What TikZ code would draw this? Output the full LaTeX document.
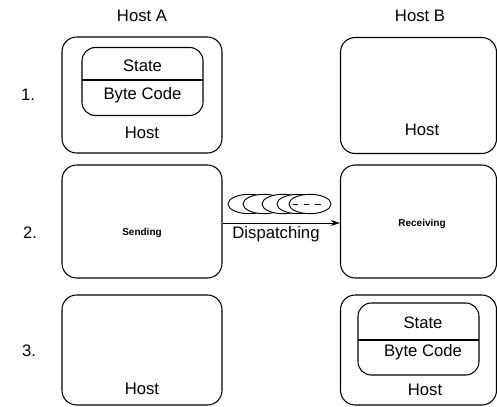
\documentclass[tikz,border=0pt]{standalone}
\usepackage{fontspec}
\setmainfont{Liberation Sans}
\usetikzlibrary{shapes.geometric,arrows.meta}
\begin{document}
\begin{tikzpicture}[x=0.75pt,y=-0.75pt,
  lbl/.style={font=\fontsize{12.5}{14}\selectfont, inner sep=0pt},
  small/.style={font=\fontsize{7.5}{9}\selectfont\bfseries, inner sep=0pt},
  hostbox/.style={draw, line width=0.8pt, rounded corners=11pt, inner sep=0pt},
  codebox/.style={draw, line width=0.8pt, rounded corners=10pt, inner sep=0pt, minimum width=90.75pt, minimum height=51pt},
  packet/.style={ellipse, draw, line width=0.7pt, fill=white, minimum width=31.5pt, minimum height=14.5pt, inner sep=0pt}
]
\useasboundingbox (0,0) rectangle (497,407);
% column titles
\node[lbl] (ta) at (142,16) {Host A};
\node[lbl] (tb) at (420,16) {Host B};
% row numbers
\node[lbl] (n1) at (28,95) {1.};
\node[lbl] (n2) at (30,233) {2.};
\node[lbl] (n3) at (29,351) {3.};
% row 1
\node[hostbox, minimum width=120pt, minimum height=87pt] (a1) at (142,95) {};
\node[hostbox, minimum width=117pt, minimum height=87pt] (b1) at (418.5,95.5) {};
\node[codebox] (ca) at (142.5,81.5) {};
\coordinate (cal) at (82,80);
\coordinate (car) at (203,80);
\draw[line width=0.8pt] (cal) -- (car);
\node[lbl] (sa) at (142.5,66) {State};
\node[lbl] (bca) at (142.5,95) {Byte Code};
\node[lbl] (ha1) at (142,133) {Host};
\node[lbl] (hb1) at (422,130) {Host};
% row 2
\node[hostbox, minimum width=120pt, minimum height=84.75pt] (a2) at (142,221.5) {};
\node[hostbox, minimum width=117pt, minimum height=84.75pt] (b2) at (418.5,221.5) {};
\node[small] (send) at (142,233) {Sending};
\node[small] (recv) at (422,224) {Receiving};
\draw[line width=0.7pt, -{Stealth[length=7pt,width=4.5pt]}] (a2.east |- 0,223) -- (b2.west |- 0,223);
\node[lbl] (disp) at (276,234) {Dispatching};
\node[packet] (e1) at (249,204) {};
\node[packet] (e2) at (264,204) {};
\node[packet] (e3) at (283,204) {};
\node[packet] (e4) at (298,204) {};
\node[packet] (e5) at (310,204) {};
\draw[line width=0.7pt, dash pattern=on 4pt off 4.5pt] ([xshift=-13pt]e5.center) -- ([xshift=11pt]e5.center);
% row 3
\node[hostbox, minimum width=120pt, minimum height=82.5pt] (a3) at (142,350) {};
\node[hostbox, minimum width=117pt, minimum height=82.5pt] (b3) at (418.5,350) {};
\node[codebox, minimum height=54pt] (cb) at (418.5,339) {};
\coordinate (cbl) at (358,340);
\coordinate (cbr) at (479,340);
\draw[line width=0.8pt] (cbl) -- (cbr);
\node[lbl] (sb) at (423,323) {State};
\node[lbl] (bcb) at (423,352) {Byte Code};
\node[lbl] (ha3) at (142,389) {Host};
\node[lbl] (hb3) at (425,390) {Host};
\end{tikzpicture}
\end{document}
